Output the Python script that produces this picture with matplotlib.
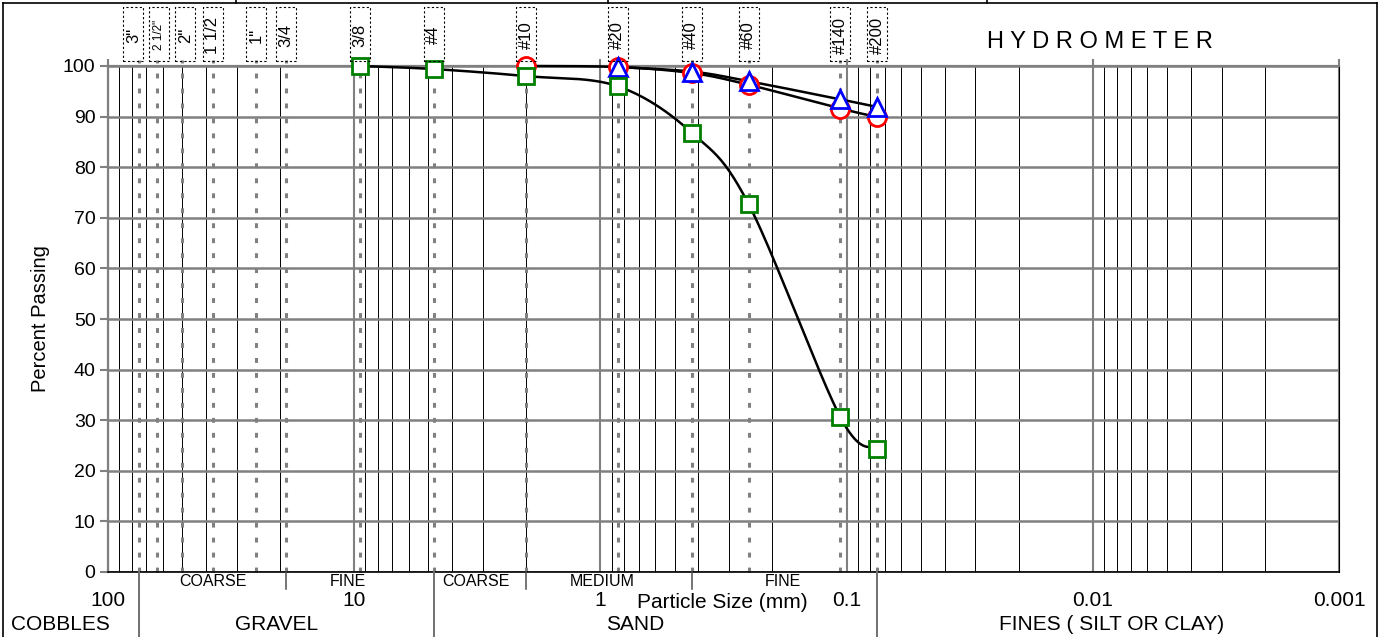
import numpy as np
import matplotlib
matplotlib.use('Agg')
import matplotlib.pyplot as plt
from matplotlib.patches import Rectangle
from matplotlib.lines import Line2D
from matplotlib.ticker import LogLocator, NullFormatter

plt.rcParams['font.family'] = ['Liberation Sans', 'DejaVu Sans']

# sieve openings (mm) and their names
sieve_sizes = [75, 63, 50, 37.5, 25, 19, 9.5, 4.75, 2.0, 0.85, 0.425, 0.25, 0.106, 0.075]
sieve_names = ['3"', '2 1/2"', '2"', '1 1/2', '1"', '3/4', '3/8', '#4', '#10', '#20',
               '#40', '#60', '#140', '#200']

# gradation results, percent passing
size_sq = [9.5, 4.75, 2.0, 0.85, 0.425, 0.25, 0.106, 0.075]
pass_sq = [100, 99.4, 98.0, 96.0, 86.8, 72.7, 30.6, 24.4]
size_circ = [2.0, 0.85, 0.425, 0.25, 0.106, 0.075]
pass_circ = [100, 99.8, 98.6, 96.3, 91.6, 89.9]
size_tri = [0.85, 0.425, 0.25, 0.106, 0.075]
pass_tri = [99.8, 98.9, 97.0, 93.4, 91.9]

x_ticks = [100, 10, 1, 0.1, 0.01, 0.001]
x_tick_labels = ['100', '10', '1', '0.1', '0.01', '0.001']

W, H = 1384, 637
def fx(x):
    return x / W
def fy(y):
    return 1 - y / H

def smooth_curve(sizes, values, steps=40):
    # catmull-rom through the points, in log(size)
    u = np.log10(sizes)
    v = np.asarray(values, dtype=float)
    pu = np.concatenate([[u[0]], u, [u[-1]]])
    pv = np.concatenate([[v[0]], v, [v[-1]]])
    t = np.linspace(0, 1, steps)
    cu, cv = [], []
    for i in range(len(u) - 1):
        for p, out in ((pu, cu), (pv, cv)):
            p0, p1, p2, p3 = p[i], p[i + 1], p[i + 2], p[i + 3]
            out.append(0.5 * (2 * p1 + (p2 - p0) * t
                              + (2 * p0 - 5 * p1 + 4 * p2 - p3) * t ** 2
                              + (-p0 + 3 * p1 - 3 * p2 + p3) * t ** 3))
    return 10 ** np.concatenate(cu), np.concatenate(cv)

fig = plt.figure(figsize=(W / 100, H / 100), dpi=100)
ax = fig.add_axes([fx(108), fy(572), fx(1339) - fx(108), fy(66) - fy(572)])

ax.set_xscale('log')
ax.set_xlim(100, 0.001)
ax.set_ylim(0, 100)
ax.set_xticks(x_ticks)
ax.set_xticklabels(x_tick_labels)
ax.xaxis.set_minor_locator(LogLocator(base=10, subs=np.arange(2, 10)))
ax.xaxis.set_minor_formatter(NullFormatter())
ax.set_yticks(np.arange(0, 101, 10))

ax.set_axisbelow(True)
ax.grid(axis='y', which='major', color='#808080', lw=1.8)
ax.grid(axis='x', which='major', color='#808080', lw=1.5)
ax.grid(axis='x', which='minor', color='black', lw=0.7)

ax.tick_params(axis='x', which='major', top=True, bottom=False, direction='out',
               length=5, width=1.5, color='#808080', labelsize=15, pad=9)
ax.tick_params(axis='x', which='minor', top=False, bottom=False, length=0)
ax.tick_params(axis='y', direction='out', length=6, width=1.5, color='#808080',
               labelsize=14, pad=3)

for side in ['left', 'top']:
    ax.spines[side].set_color('#808080')
    ax.spines[side].set_linewidth(1.6)
ax.spines['bottom'].set_color('black')
ax.spines['bottom'].set_linewidth(1.2)
ax.spines['right'].set_color('black')
ax.spines['right'].set_linewidth(0.8)

ax.set_ylabel('Percent Passing', fontsize=14.5)
ax.yaxis.set_label_coords((50 - 108) / (1339 - 108), 0.5)

# sieve lines
for s in sieve_sizes:
    ax.axvline(s, ymax=1.012, color='#808080', lw=2.2, ls=(0, (1.6, 3.3)),
               clip_on=False, zorder=1)

# curves
for sz, pc in ((size_circ, pass_circ), (size_tri, pass_tri), (size_sq, pass_sq)):
    cx, cy = smooth_curve(sz, pc)
    ax.plot(cx, cy, color='black', lw=1.8, zorder=3, clip_on=False)

ax.plot(size_circ, pass_circ, ls='none', marker='o', ms=13, mfc='white', mec='red',
        mew=2, zorder=4, clip_on=False)
ax.plot(size_tri, pass_tri, ls='none', marker='^', ms=13, mfc='white', mec='blue',
        mew=2, zorder=5, clip_on=False)
ax.plot(size_sq, pass_sq, ls='none', marker='s', ms=12, mfc='white', mec='green',
        mew=2, zorder=6, clip_on=False)

def xpix(v):
    return ax.transData.transform((v, 0))[0]

# sieve label boxes, spread apart where they crowd
centers = [xpix(s) for s in sieve_sizes]
for _ in range(30):
    for i in range(len(centers) - 1):
        gap = centers[i + 1] - centers[i]
        if gap < 26:
            d = (26 - gap) / 2
            centers[i] -= d
            centers[i + 1] += d
for xc, name in zip(centers, sieve_names):
    fig.add_artist(Rectangle((fx(xc - 10), fy(61)), 20 / W, 54 / H, transform=fig.transFigure,
                             fill=False, ec='black', lw=0.8, ls=(0, (2, 2))))
    fs = 8.5 if name == '2 1/2"' else 12
    fig.text(fx(xc), fy(35), name, rotation=90, ha='center', va='center', fontsize=fs)

fig.text(fx(987), fy(42), 'H Y D R O M E T E R', ha='left', va='center', fontsize=17)

# soil classification table below the axis
for b in [75, 4.75, 0.075]:
    xb = fx(xpix(b))
    fig.add_artist(Line2D([xb, xb], [fy(572), fy(637)], color='#707070', lw=1.4))
for b in [19, 2.0, 0.425]:
    xb = fx(xpix(b))
    fig.add_artist(Line2D([xb, xb], [fy(572), fy(589)], color='#505050', lw=1.1))

for x, txt in [(213, 'COARSE'), (348, 'FINE'), (476, 'COARSE'), (602, 'MEDIUM'), (783, 'FINE')]:
    fig.text(fx(x), fy(581), txt, ha='center', va='center', fontsize=11.5)
for x, txt in [(60, 'COBBLES'), (277, 'GRAVEL'), (635, 'SAND'), (1112, 'FINES ( SILT OR CLAY)')]:
    fig.text(fx(x), fy(625), txt, ha='center', va='center', fontsize=15)
fig.text(fx(722), fy(602), 'Particle Size (mm)', ha='center', va='center', fontsize=15)

# outer frame
for xs, ys in [([3, 3], [3, 637]), ([1377, 1377], [3, 637]), ([3, 1377], [3, 3]),
               ([236, 236], [0, 3]), ([608, 608], [0, 3]), ([987, 987], [0, 3])]:
    fig.add_artist(Line2D([fx(v) for v in xs], [fy(v) for v in ys], color='black', lw=1.2))

fig.savefig('out.png', dpi=100)
